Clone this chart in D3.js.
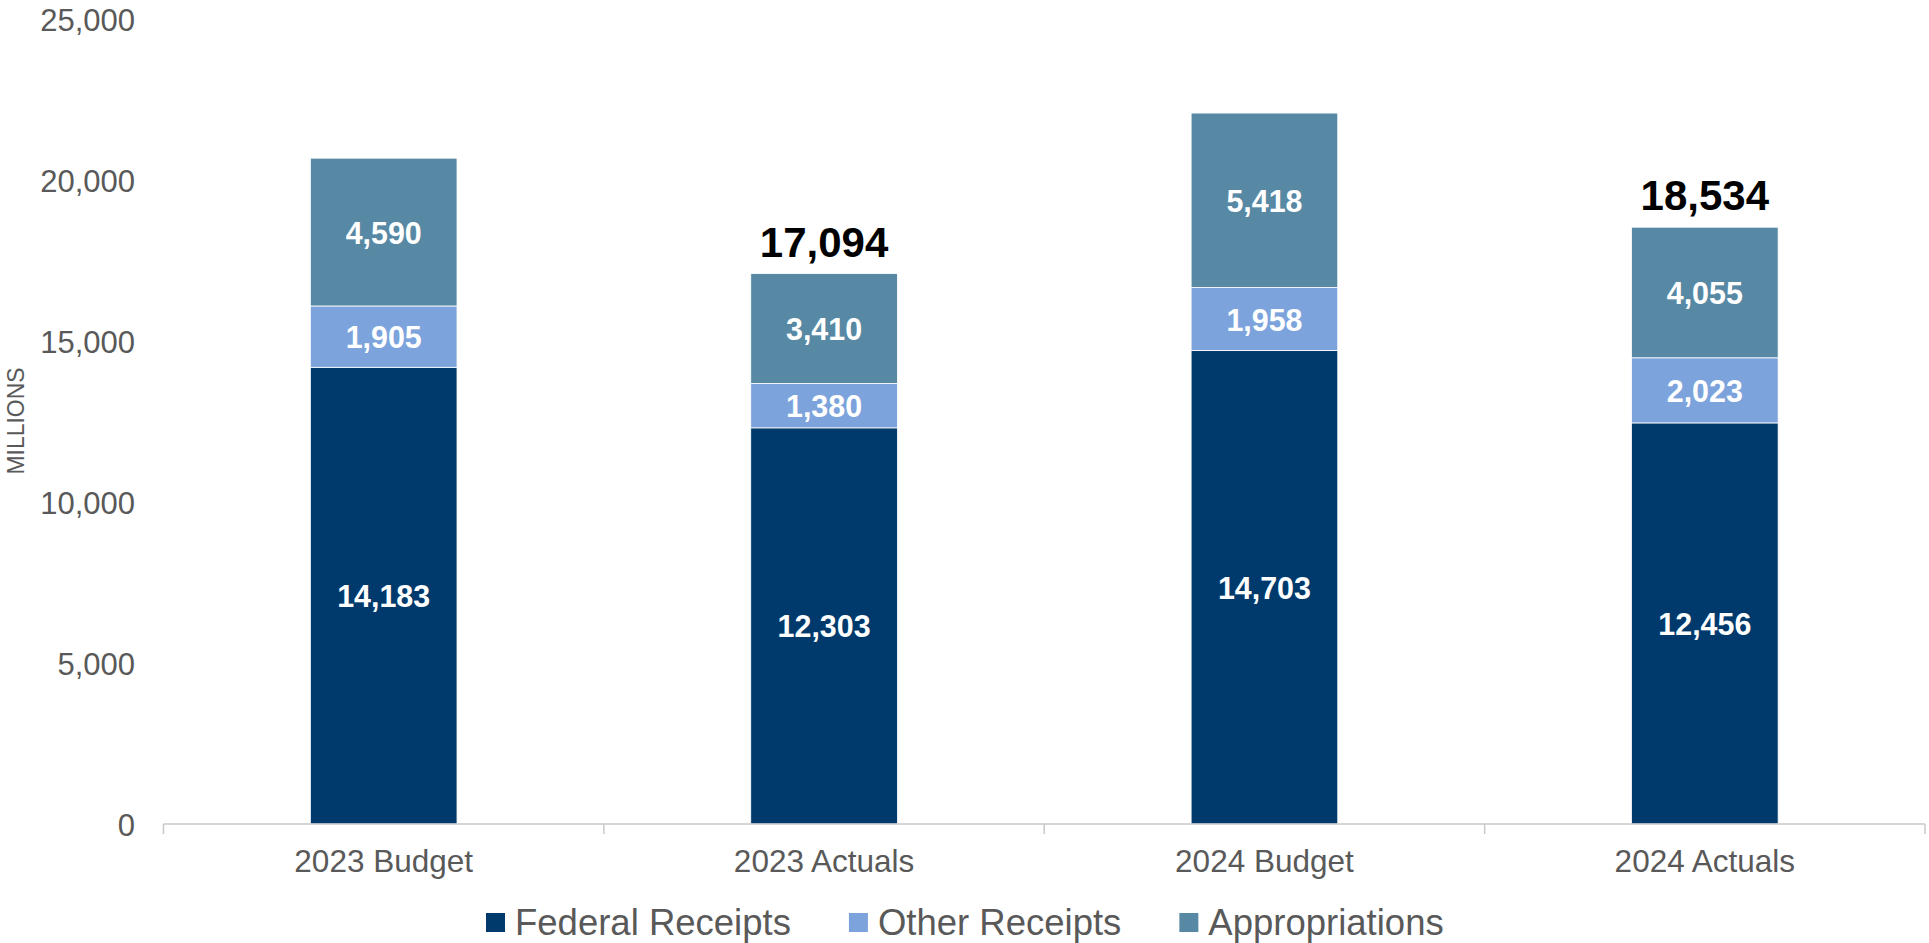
<!DOCTYPE html>
<html>
<head>
<meta charset="utf-8">
<script src="https://cdn.jsdelivr.net/npm/d3@7"></script>
<style>
  html, body { margin: 0; padding: 0; background: #ffffff; }
  svg { display: block; }
  text { font-family: "Liberation Sans", Arial, sans-serif; }
</style>
</head>
<body>
<svg id="chart" width="1929" height="943"></svg>
<script>
// ---- data ----
const categories = ["2023 Budget", "2023 Actuals", "2024 Budget", "2024 Actuals"];
const seriesNames = ["Federal Receipts", "Other Receipts", "Appropriations"];
const federalReceipts = [14183, 12303, 14703, 12456];
const otherReceipts = [1905, 1380, 1958, 2023];
const appropriations = [4590, 3410, 5418, 4055];
const totalLabels = [null, 17094, null, 18534];
const yTicks = [0, 5000, 10000, 15000, 20000, 25000];
const yAxisTitle = "MILLIONS";
const colors = ["#003a6d", "#7ca3dc", "#5789a5"];

(function () {
  // ---- layout ----
  const svg = d3.select("#chart");
  const plotLeft = 163.5, plotRight = 1925, plotTop = 19, plotBottom = 824;

  const x = d3.scaleBand().domain(categories).range([plotLeft, plotRight]).paddingInner(0).paddingOuter(0);
  const y = d3.scaleLinear().domain([0, 25000]).range([plotBottom, plotTop]);
  const barW = x.bandwidth() * 0.333;

  const rows = categories.map((c, i) => ({
    cat: c,
    "Federal Receipts": federalReceipts[i],
    "Other Receipts": otherReceipts[i],
    "Appropriations": appropriations[i]
  }));
  const stacked = d3.stack().keys(seriesNames)(rows);

  // y tick labels (no axis line)
  const yAxis = d3.axisLeft(y).tickValues(yTicks).tickFormat(d3.format(",")).tickSize(0).tickPadding(0);
  const gy = svg.append("g").attr("transform", `translate(135,0)`).call(yAxis);
  gy.select(".domain").remove();
  gy.selectAll("text")
    .attr("fill", "#595959")
    .style("font-size", "31px")
    .style("font-family", '"Liberation Sans", Arial, sans-serif')
    .attr("dy", "0.36em");

  // y-axis title
  svg.append("text")
    .attr("transform", `translate(24,421) rotate(-90)`)
    .attr("text-anchor", "middle")
    .attr("fill", "#595959")
    .style("font-size", "23px")
    .attr("textLength", 107)
    .attr("lengthAdjust", "spacingAndGlyphs")
    .text(yAxisTitle);

  // bars
  const gBars = svg.append("g");
  stacked.forEach((layer, si) => {
    gBars.selectAll(null)
      .data(layer)
      .enter()
      .append("rect")
      .attr("x", d => x(d.data.cat) + (x.bandwidth() - barW) / 2)
      .attr("width", barW)
      .attr("y", d => y(d[1]))
      .attr("height", d => y(d[0]) - y(d[1]))
      .attr("fill", colors[si])
      .attr("stroke", "#ffffff")
      .attr("stroke-width", 0.8);
  });

  // segment labels
  stacked.forEach((layer) => {
    svg.append("g").selectAll(null)
      .data(layer)
      .enter()
      .append("text")
      .attr("x", d => x(d.data.cat) + x.bandwidth() / 2)
      .attr("y", d => (y(d[0]) + y(d[1])) / 2)
      .attr("dy", "0.36em")
      .attr("text-anchor", "middle")
      .attr("fill", "#ffffff")
      .style("font-size", "32px")
      .style("font-weight", "bold")
      .text(d => d3.format(",")(d[1] - d[0]))
      .each(function () {
        const w = this.getComputedTextLength();
        d3.select(this).attr("textLength", w * 0.95).attr("lengthAdjust", "spacingAndGlyphs");
      });
  });

  // total labels
  svg.append("g").selectAll(null)
    .data(categories.map((c, i) => ({ cat: c, total: totalLabels[i], stackTop: stacked[2][i][1] })).filter(d => d.total !== null))
    .enter()
    .append("text")
    .attr("x", d => x(d.cat) + x.bandwidth() / 2)
    .attr("y", d => y(d.stackTop) - 17)
    .attr("text-anchor", "middle")
    .attr("fill", "#000000")
    .style("font-size", "42px")
    .style("font-weight", "bold")
    .text(d => d3.format(",")(d.total));

  // x axis
  const gx = svg.append("g");
  gx.append("line")
    .attr("x1", x.range()[0]).attr("x2", x.range()[1])
    .attr("y1", y(0)).attr("y2", y(0))
    .attr("stroke", "#c8c8c8").attr("stroke-width", 1.5);
  const bounds = categories.map(c => x(c)).concat([x.range()[1]]);
  gx.selectAll(null).data(bounds).enter().append("line")
    .attr("x1", d => d).attr("x2", d => d)
    .attr("y1", y(0)).attr("y2", y(0) + 10)
    .attr("stroke", "#c8c8c8").attr("stroke-width", 1.5);
  gx.selectAll(null).data(categories).enter().append("text")
    .attr("x", d => x(d) + x.bandwidth() / 2)
    .attr("y", 872)
    .attr("text-anchor", "middle")
    .attr("fill", "#595959")
    .style("font-size", "31.5px")
    .text(d => d);

  // legend
  const legend = svg.append("g");
  let lx = 486;
  seriesNames.forEach((name, i) => {
    legend.append("rect")
      .attr("x", lx).attr("y", 913)
      .attr("width", 19).attr("height", 19)
      .attr("fill", colors[i]);
    const t = legend.append("text")
      .attr("x", lx + 29).attr("y", 935)
      .attr("fill", "#595959")
      .style("font-size", "36.5px")
      .text(name);
    lx = lx + 29 + t.node().getComputedTextLength() + 58;
  });
})();
</script>
</body>
</html>
